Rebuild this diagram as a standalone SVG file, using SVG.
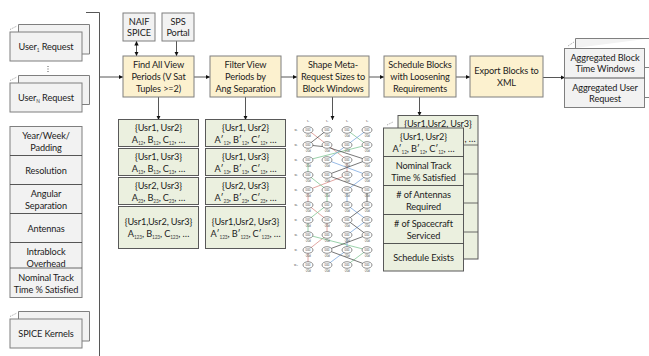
<svg xmlns="http://www.w3.org/2000/svg" width="649" height="356" viewBox="0 0 649 356">
<style>
text{font-family:Lato,"Liberation Sans",sans-serif;font-size:9.2px;letter-spacing:-.12px;fill:#1c1c1c;text-anchor:middle}
.g{fill:#f2f2f2;stroke:#7f7f7f;stroke-width:1}
.y{fill:#fcf1cf;stroke:#7f7f7f;stroke-width:1}
.l{fill:#ebf0df;stroke:#595959;stroke-width:1}
.w{fill:none;stroke:#595959;stroke-width:.9}
.d{fill:none;stroke:#777;stroke-width:.7;stroke-dasharray:1 1}
.c{fill:none;stroke:#444;stroke-width:.9}
.a{marker-end:url(#h)}
.s{font-size:4.8px;fill:#444}
.t{font-size:2.8px;letter-spacing:0;fill:#555}
.n{fill:#fff;stroke:#444;stroke-width:.6}
.R{stroke:#d98f8a;stroke-width:.8;fill:none}
.G{stroke:#82c795;stroke-width:.8;fill:none}
.B{stroke:#7eaadf;stroke-width:.8;fill:none}
.K{stroke:#4a4a4a;stroke-width:.75;fill:none}
</style>
<defs>
<marker id="h" markerUnits="userSpaceOnUse" markerWidth="5" markerHeight="5" refX="4.500" refY="2.500" orient="auto"><path d="M0 0.300L4.500 2.500L0 4.700Z" fill="#111"/></marker>
<marker id="hs" markerUnits="userSpaceOnUse" markerWidth="5" markerHeight="5" refX="4.500" refY="2.500" orient="auto-start-reverse"><path d="M0 0.300L4.500 2.500L0 4.700Z" fill="#111"/></marker>
<g id="v"><ellipse class="n" rx="5" ry="3.300"/><text class="t" y="1">000</text><text class="t" y="6.500">-20d</text></g>
</defs>

<g id="connectors">
<path class="c" d="M86 12.500H99.500V356"/>
<path class="c a" d="M100 77H123"/>
<path class="c" d="M136.500 41V56" marker-start="url(#hs)" marker-end="url(#hs)"/>
<path class="c a" d="M176.500 41V56"/>
<path class="c a" d="M194 77H210"/>
<path class="c a" d="M281 77H297"/>
<path class="c a" d="M369 77H384"/>
<path class="c a" d="M456 77H470"/>
<path class="c a" d="M543 77.500H565"/>
<path class="c a" d="M158.500 97V120"/>
<path class="c a" d="M245.500 97V120"/>
<path class="c a" d="M332.500 97V120"/>
<path class="c a" d="M419.500 97V116"/>
</g>

<g id="user1"><path class="g" d="M18.500 32V24.500H89.500V54H82"/><rect class="g" x="10" y="32" width="72" height="29"/><path class="d" d="M10 29.500L17 26"/><text x="46" y="50">User<tspan class="s" dy="2">1</tspan><tspan dy="-2"> Request</tspan></text></g>
<g id="dots"><path d="M48 66V72" stroke="#555" stroke-width="1" stroke-dasharray="1 1.500"/></g>
<g id="userN"><path class="g" d="M18.500 83V75.500H89.500V104.500H82"/><rect class="g" x="10" y="83" width="72" height="29"/><path class="d" d="M10 80.500L17 77"/><text x="46" y="101">User<tspan class="s" dy="2">N</tspan><tspan dy="-2"> Request</tspan></text></g>

<g id="params">
<rect class="g" x="10" y="126.500" width="72" height="171"/>
<path class="c" d="M10 155.500H82M10 184.500H82M10 213.500H82M10 242.500H82"/>
<path class="w" d="M10 268H82"/>
<text x="46" y="138.500">Year/Week/</text><text x="46" y="150.500">Padding</text>
<text x="46" y="174">Resolution</text>
<text x="46" y="197">Angular</text><text x="46" y="209">Separation</text>
<text x="46" y="232">Antennas</text>
<text x="46" y="255">Intrablock</text><text x="46" y="267">Overhead</text>
<text x="46" y="280.500">Nominal Track</text><text x="46" y="292.500">Time % Satisfied</text>
</g>

<g id="spice"><path class="g" d="M18.500 319V311.500H89.500V341H82"/><rect class="g" x="10" y="319" width="72" height="29"/><path class="d" d="M10 316.500L17 313"/><text x="46" y="337">SPICE Kernels</text></g>

<g id="naif"><rect class="g" x="123" y="13" width="32" height="28"/><text x="139" y="24.500">NAIF</text><text x="139" y="36">SPICE</text></g>
<g id="sps"><rect class="g" x="162" y="13" width="32" height="28"/><text x="178" y="24.500">SPS</text><text x="178" y="36">Portal</text></g>

<g id="find"><rect class="y" x="123" y="56" width="71" height="41"/><text x="158.500" y="68">Find All View</text><text x="158.500" y="80">Periods (V Sat</text><text x="158.500" y="92">Tuples &gt;=2)</text></g>
<g id="filter"><rect class="y" x="210" y="56" width="71" height="41"/><text x="245.500" y="68">Filter View</text><text x="245.500" y="80">Periods by</text><text x="245.500" y="92">Ang Separation</text></g>
<g id="shape"><rect class="y" x="297" y="56" width="72" height="41"/><text x="333" y="68">Shape Meta-</text><text x="333" y="80">Request Sizes to</text><text x="333" y="92">Block Windows</text></g>
<g id="schedule"><rect class="y" x="384" y="56" width="72" height="41"/><text x="420" y="68">Schedule Blocks</text><text x="420" y="80">with Loosening</text><text x="420" y="92">Requirements</text></g>
<g id="export"><rect class="y" x="470" y="56" width="73" height="41"/><text x="506.500" y="74">Export Blocks to</text><text x="506.500" y="86">XML</text></g>

<g id="aggregated">
<path class="g" d="M575.500 48V38.500H649M645 67.500H649M645 97.500H649"/>
<rect class="g" x="564.500" y="48.500" width="80" height="59"/>
<path class="c" d="M564.500 78H644.500"/>
<path class="d" d="M568 46L574 42"/>
<text x="605" y="61">Aggregated Block</text><text x="605" y="72">Time Windows</text>
<text x="605" y="91">Aggregated User</text><text x="605" y="102">Request</text>
</g>

<g id="list1">
<rect class="l" x="118.500" y="119.500" width="80" height="27"/><text x="158.500" y="131">{Usr1, Usr2}</text><text x="158.500" y="143">A<tspan class="s" dy="1.500">12</tspan><tspan dy="-1.500">, B</tspan><tspan class="s" dy="1.500">12</tspan><tspan dy="-1.500">, C</tspan><tspan class="s" dy="1.500">12</tspan><tspan dy="-1.500">, …</tspan></text>
<rect class="l" x="118.500" y="148.500" width="80" height="27"/><text x="158.500" y="160">{Usr1, Usr3}</text><text x="158.500" y="172">A<tspan class="s" dy="1.500">13</tspan><tspan dy="-1.500">, B</tspan><tspan class="s" dy="1.500">13</tspan><tspan dy="-1.500">, C</tspan><tspan class="s" dy="1.500">13</tspan><tspan dy="-1.500">, …</tspan></text>
<rect class="l" x="118.500" y="177.500" width="80" height="27"/><text x="158.500" y="189">{Usr2, Usr3}</text><text x="158.500" y="201">A<tspan class="s" dy="1.500">23</tspan><tspan dy="-1.500">, B</tspan><tspan class="s" dy="1.500">23</tspan><tspan dy="-1.500">, C</tspan><tspan class="s" dy="1.500">23</tspan><tspan dy="-1.500">, …</tspan></text>
<rect class="l" x="118.500" y="206.500" width="80" height="42"/><text x="158.500" y="225">{Usr1,Usr2, Usr3}</text><text x="158.500" y="237">A<tspan class="s" dy="1.500">123</tspan><tspan dy="-1.500">, B</tspan><tspan class="s" dy="1.500">123</tspan><tspan dy="-1.500">, C</tspan><tspan class="s" dy="1.500">123</tspan><tspan dy="-1.500">, …</tspan></text>
</g>

<g id="list2">
<rect class="l" x="205.500" y="119.500" width="80" height="27"/><text x="245.500" y="131">{Usr1, Usr2}</text><text x="245.500" y="143">A′<tspan class="s" dy="1.500">12</tspan><tspan dy="-1.500">, B′</tspan><tspan class="s" dy="1.500">12</tspan><tspan dy="-1.500">, C′</tspan><tspan class="s" dy="1.500">12</tspan><tspan dy="-1.500">, …</tspan></text>
<rect class="l" x="205.500" y="148.500" width="80" height="27"/><text x="245.500" y="160">{Usr1, Usr3}</text><text x="245.500" y="172">A′<tspan class="s" dy="1.500">13</tspan><tspan dy="-1.500">, B′</tspan><tspan class="s" dy="1.500">13</tspan><tspan dy="-1.500">, C′</tspan><tspan class="s" dy="1.500">13</tspan><tspan dy="-1.500">, …</tspan></text>
<rect class="l" x="205.500" y="177.500" width="80" height="27"/><text x="245.500" y="189">{Usr2, Usr3}</text><text x="245.500" y="201">A′<tspan class="s" dy="1.500">23</tspan><tspan dy="-1.500">, B′</tspan><tspan class="s" dy="1.500">23</tspan><tspan dy="-1.500">, C′</tspan><tspan class="s" dy="1.500">23</tspan><tspan dy="-1.500">, …</tspan></text>
<rect class="l" x="205.500" y="206.500" width="80" height="42"/><text x="245.500" y="225">{Usr1,Usr2, Usr3}</text><text x="245.500" y="237">A′<tspan class="s" dy="1.500">123</tspan><tspan dy="-1.500">, B′</tspan><tspan class="s" dy="1.500">123</tspan><tspan dy="-1.500">, C′</tspan><tspan class="s" dy="1.500">123</tspan><tspan dy="-1.500">, …</tspan></text>
</g>

<g id="lattice">
<path class="R" d="M308 130L347 160V175L308 190V205L327 220V235L308 250V265"/>
<path class="G" d="M347 130L367 145L308 160V175L327 190V205L308 220V235L367 250L347 265"/>
<path class="B" d="M367 130L327 160L367 175L347 190V205L367 220L347 235V250L327 265"/>
<path class="K" d="M327 130L308 145M308 145L327 147L367 160L327 175L367 190V205L347 220L367 235L327 250L367 265"/>
<text class="t" x="308" y="122">s₁</text><text class="t" x="327" y="122">s₂</text><text class="t" x="347" y="122">s₃</text><text class="t" x="367" y="122">s₄</text>
<text class="t" x="296" y="131">w₁</text><text class="t" x="296" y="146">w₂</text><text class="t" x="296" y="161">w₃</text><text class="t" x="296" y="176">w₄</text><text class="t" x="296" y="191">w₅</text><text class="t" x="296" y="206">w₆</text><text class="t" x="296" y="221">w₇</text><text class="t" x="296" y="236">w₈</text><text class="t" x="296" y="251">w₉</text><text class="t" x="296" y="266">w₁₀</text>
<use href="#v" x="308" y="130"/><use href="#v" x="327" y="130"/><use href="#v" x="347" y="130"/><use href="#v" x="367" y="130"/>
<use href="#v" x="308" y="145"/><use href="#v" x="327" y="145"/><use href="#v" x="347" y="145"/><use href="#v" x="367" y="145"/>
<use href="#v" x="308" y="160"/><use href="#v" x="327" y="160"/><use href="#v" x="347" y="160"/><use href="#v" x="367" y="160"/>
<use href="#v" x="308" y="175"/><use href="#v" x="327" y="175"/><use href="#v" x="347" y="175"/><use href="#v" x="367" y="175"/>
<use href="#v" x="308" y="190"/><use href="#v" x="327" y="190"/><use href="#v" x="347" y="190"/><use href="#v" x="367" y="190"/>
<use href="#v" x="308" y="205"/><use href="#v" x="327" y="205"/><use href="#v" x="347" y="205"/><use href="#v" x="367" y="205"/>
<use href="#v" x="308" y="220"/><use href="#v" x="327" y="220"/><use href="#v" x="347" y="220"/><use href="#v" x="367" y="220"/>
<use href="#v" x="308" y="235"/><use href="#v" x="327" y="235"/><use href="#v" x="347" y="235"/><use href="#v" x="367" y="235"/>
<use href="#v" x="308" y="250"/><use href="#v" x="327" y="250"/><use href="#v" x="347" y="250"/><use href="#v" x="367" y="250"/>
<use href="#v" x="308" y="265"/><use href="#v" x="327" y="265"/><use href="#v" x="347" y="265"/><use href="#v" x="367" y="265"/>
</g>

<g id="results">
<rect class="l" x="398" y="115.500" width="80" height="143.500"/>
<path class="w" d="M463 145H478M463 174H478M463 203H478M463 232H478"/>
<text x="438" y="127">{Usr1,Usr2, Usr3}</text><text x="470" y="142">, …</text>
<path class="d" d="M387 125L393 122"/>
<rect class="l" x="383.500" y="128" width="80" height="143"/>
<path class="c" d="M383.500 156.500H463.500M383.500 185.500H463.500M383.500 214.500H463.500M383.500 243.500H463.500"/>
<text x="423.500" y="140">{Usr1, Usr2}</text><text x="423.500" y="152">A′<tspan class="s" dy="1.500">12</tspan><tspan dy="-1.500">, B′</tspan><tspan class="s" dy="1.500">12</tspan><tspan dy="-1.500">, C′</tspan><tspan class="s" dy="1.500">12</tspan><tspan dy="-1.500">, …</tspan></text>
<text x="423.500" y="169">Nominal Track</text><text x="423.500" y="181">Time % Satisfied</text>
<text x="423.500" y="198"># of Antennas</text><text x="423.500" y="210">Required</text>
<text x="423.500" y="227"># of Spacecraft</text><text x="423.500" y="239">Serviced</text>
<text x="423.500" y="261">Schedule Exists</text>
</g>
</svg>
